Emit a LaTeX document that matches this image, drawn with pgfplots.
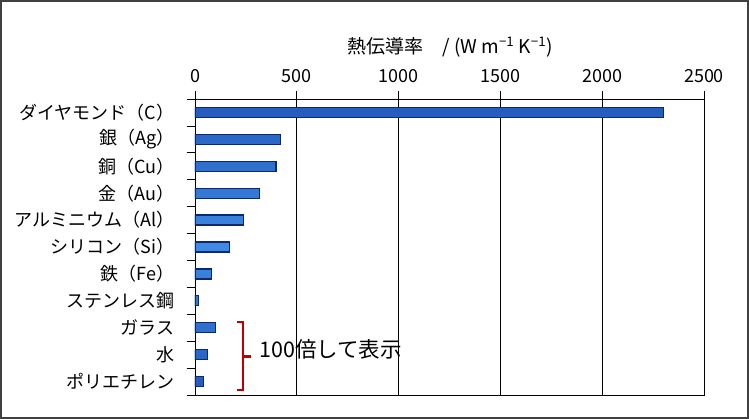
\documentclass[border=0pt]{standalone}
\usepackage{pgfplots}
\pgfplotsset{compat=1.18}
\usepackage{fontspec}
\setmainfont{Noto Sans CJK JP}

\definecolor{barlight}{RGB}{62,138,228}
\definecolor{bardark}{RGB}{36,92,190}
\definecolor{baredge}{RGB}{14,40,110}
\definecolor{bracketred}{RGB}{192,0,0}

\begin{document}
\begin{tikzpicture}[x=1pt,y=1pt]
  \useasboundingbox (0,0) rectangle (749,419);
  \draw[line width=2pt, black!75] (1,1) rectangle (748,418);

  \begin{axis}[
    at={(195pt,24pt)}, anchor=south west,
    scale only axis, width=509pt, height=296pt,
    xbar, bar width=10pt,
    xmin=0, xmax=2500,
    xtick={0,500,...,2500},
    xtick pos=top, xticklabel pos=top,
    ymin=-0.5, ymax=10.5, y dir=reverse,
    ytick={-0.5,0.5,...,10.5}, yticklabels={},
    ytick pos=left,
    extra y ticks={0,1,...,10},
    extra y tick labels={ダイヤモンド（C）,銀（Ag）,銅（Cu）,金（Au）,アルミニウム（Al）,シリコン（Si）,鉄（Fe）,ステンレス鋼,ガラス,水,ポリエチレン},
    extra y tick style={major tick length=0pt, yticklabel style={xshift=-17pt}},
    tick align=outside, major tick length=8pt,
    xmajorgrids, grid style={black, line width=0.8pt},
    axis line style={black, line width=0.8pt},
    tick style={black, line width=0.8pt},
    /pgf/number format/assume math mode=true,
    /pgf/number format/1000 sep={},
    xticklabel style={font=\fontsize{18}{21}\selectfont, yshift=5pt},
    yticklabel style={font=\fontsize{18}{21}\selectfont},
  ]
    \addplot[top color=bardark, bottom color=bardark, middle color=barlight,
             draw=baredge, line width=1.2pt] coordinates {
      (2300,0) (420,1) (398,2) (318,3) (237,4) (168,5)
      (80,6) (16,7) (100,8) (60,9) (40,10)
    };
  \end{axis}

  \node[font=\fontsize{19}{22}\selectfont] at (450,372)
    {熱伝導率　/ (W m\textsuperscript{−1} K\textsuperscript{−1})};

  \draw[bracketred, line width=2.5pt]
    (237,97) -- (243,97) -- (243,29) -- (237,29);
  \draw[bracketred, line width=2.5pt] (243,62.5) -- (251,62.5);
  \node[anchor=west, inner sep=0pt, font=\fontsize{21.5}{24}\selectfont] at (259,70) {100倍して表示};
\end{tikzpicture}
\end{document}
